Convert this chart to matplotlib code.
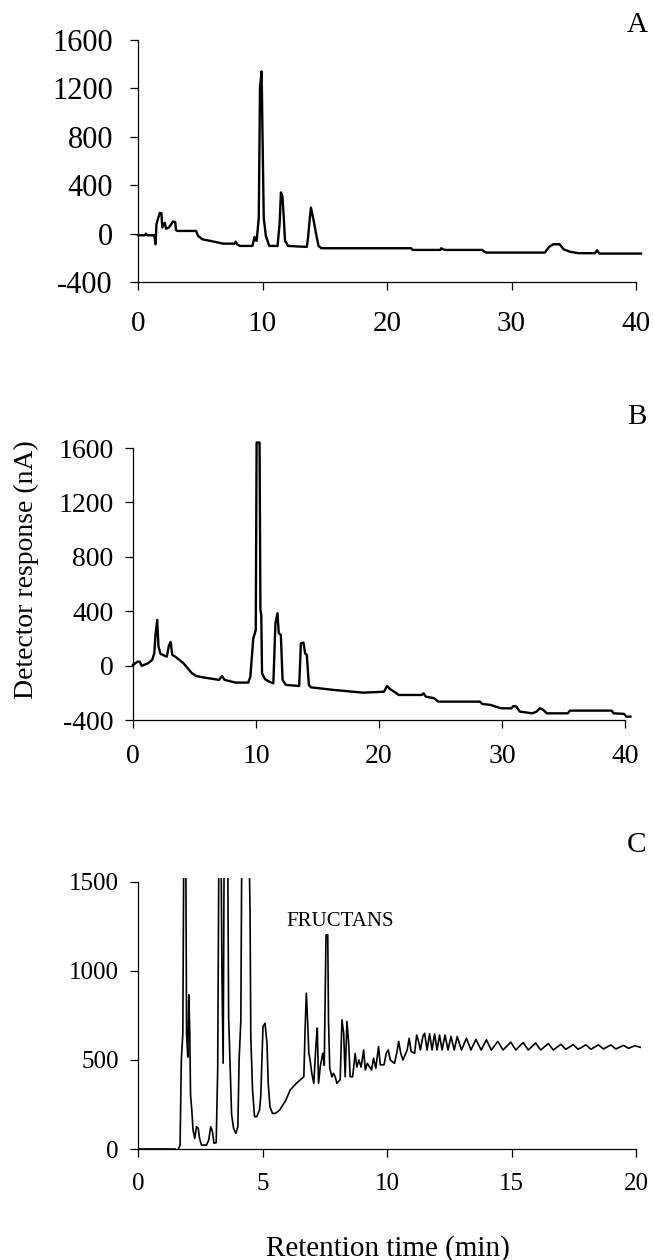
import matplotlib
matplotlib.use("Agg")
from matplotlib import pyplot as plt

plt.rcParams['font.family'] = ['Liberation Serif', 'DejaVu Serif']
plt.rcParams['axes.unicode_minus'] = False

# panel A: retention time (min) and detector response (nA)
time_a = [0, 0.55, 0.64, 0.75, 1.31, 1.41, 1.48, 1.74, 1.88, 1.95, 2.15, 2.25, 2.48, 2.82,
          2.99, 3.05, 3.15, 4.66, 4.83, 5.17, 5.84, 6.85, 7.75, 7.85, 7.95, 8.19, 9.19, 9.36,
          9.45, 9.53, 9.70, 9.80, 9.93, 10.0, 10.1, 10.27, 10.54, 11.21, 11.38, 11.48, 11.60,
          11.71, 11.81, 12.05, 13.56, 13.66, 13.79, 13.89, 14.09, 14.30, 14.50, 14.73, 21.95,
          22.05, 24.3, 24.35, 24.63, 27.65, 27.75, 27.99, 32.68, 33.02, 33.36, 33.86, 34.19,
          34.70, 35.37, 36.71, 36.88, 37.05, 40.4]
resp_a = [-14, -14, 0, -14, -14, -88, 77, 170, 170, 50, 90, 40, 50, 100,
          95, 30, 22, 22, -19, -47, -61, -83, -83, -66, -88, -102, -102, -28,
          -55, -60, 130, 1207, 1340, 820, 130, -19, -102, -102, 90, 340, 310,
          130, -60, -102, -110, -33, 118, 215, 118, 0, -102, -121, -121,
          -135, -135, -121, -135, -135, -145, -157, -157, -110, -88, -88, -130,
          -150, -162, -162, -138, -165, -165]

# panel B
time_b = [0, 0.37, 0.54, 0.71, 1.22, 1.56, 1.73, 1.83, 1.97, 2.07, 2.24, 2.75, 2.92, 3.06,
          3.19, 3.43, 3.77, 4.11, 4.45, 4.79, 5.13, 5.64, 6.15, 7.0, 7.24, 7.44, 8.35, 9.37,
          9.54, 9.78, 9.98, 10.05, 10.29, 10.36, 10.43, 10.49, 10.73, 11.07, 11.41, 11.58,
          11.75, 11.85, 12.02, 12.16, 12.43, 13.51, 13.65, 13.86, 13.99, 14.13, 14.30, 14.46,
          16.33, 18.71, 20.41, 20.65, 20.92, 21.43, 21.60, 23.46, 23.63, 23.80, 24.48, 24.82,
          28.22, 28.39, 29.07, 29.92, 30.76, 30.93, 31.17, 31.44, 32.46, 32.80, 33.07, 33.31,
          33.65, 35.35, 35.52, 38.91, 39.08, 39.93, 40.10, 40.44]
resp_b = [5, 29, 29, -2, 17, 42, 91, 226, 336, 140, 86, 66, 147, 174,
          79, 66, 42, 17, -20, -56, -76, -86, -93, -105, -76, -105, -125, -125,
          -81, 200, 260, 1640, 1640, 410, 373, -56, -100, -118, -130, 312,
          385, 238, 226, -105, -142, -150, 164, 169, 90, 79, -142, -160,
          -179, -199, -192, -150, -174, -204, -216, -216, -204, -228, -240, -265,
          -265, -282, -289, -314, -314, -297, -301, -338, -351, -339, -314, -322,
          -351, -351, -331, -331, -351, -355, -375, -375]

# panel C
time_c = [0, 1.49, 1.58, 1.69, 1.74, 1.80, 1.85, 1.91, 1.95, 2.0, 2.04, 2.08, 2.11, 2.16,
          2.21, 2.28, 2.35, 2.42, 2.47, 2.55, 2.75, 2.84, 2.92, 2.99, 3.05, 3.14, 3.20, 3.26,
          3.32, 3.37, 3.42, 3.47, 3.59, 3.64, 3.71, 3.76, 3.84, 3.93, 4.01, 4.06, 4.13, 4.18,
          4.43, 4.50, 4.53, 4.60, 4.68, 4.77, 4.88, 4.93, 5.02, 5.10, 5.18, 5.23, 5.30, 5.40,
          5.52, 5.69, 5.94, 6.11, 6.36, 6.66, 6.71, 6.76, 6.81, 6.86, 6.91, 6.98, 7.06, 7.15,
          7.20, 7.25, 7.32, 7.42, 7.48, 7.55, 7.62, 7.65, 7.70, 7.79, 7.85, 7.92, 7.99, 8.12,
          8.19, 8.26, 8.32, 8.39, 8.46, 8.52, 8.62, 8.72, 8.79, 8.87, 8.96, 9.06, 9.13, 9.21,
          9.29, 9.38, 9.46, 9.55, 9.66, 9.73, 9.88, 9.97, 10.05, 10.13, 10.30, 10.39, 10.47,
          10.55, 10.64, 10.81, 10.89, 10.97, 11.11, 11.19, 11.27, 11.34, 11.44, 11.51, 11.61,
          11.71, 11.81, 11.91, 12.01, 12.11, 12.21, 12.33, 12.45, 12.57, 12.70, 12.82, 12.99,
          13.19, 13.37, 13.57, 13.78, 13.99, 14.19, 14.45, 14.66, 14.97, 15.17, 15.47, 15.67,
          15.97, 16.17, 16.48, 16.68, 16.98, 17.18, 17.48, 17.68, 17.99, 18.19, 18.49, 18.69,
          18.99, 19.19, 19.50, 19.70, 19.95, 20.2]
resp_c = [0, 0, -15, 23, 500, 647, 2000, 2000, 647, 516, 866, 650, 304, 219,
          107, 60, 125, 116, 60, 22, 22, 50, 125, 98, 32, 36, 445, 2000,
          2000, 1000, 482, 2000, 2000, 741, 424, 191, 116, 88, 125, 500, 722, 2000,
          2000, 1325, 632, 331, 182, 182, 220, 296, 688, 706, 594, 369, 237, 200,
          200, 219, 275, 331, 369, 406, 670, 875, 725, 540, 500, 425, 369, 595,
          679, 369, 463, 538, 470, 1203, 1203, 725, 454, 405, 425, 405, 369, 390,
          725, 650, 406, 716, 594, 406, 406, 536, 460, 500, 460, 556, 444, 481,
          463, 444, 510, 454, 575, 473, 473, 538, 556, 500, 481, 538, 604,
          538, 500, 556, 622, 547, 538, 640, 604, 556, 632, 650, 556,
          647, 556, 647, 556, 640, 556, 640, 556, 632, 556, 632, 556,
          622, 556, 615, 556, 613, 556, 604, 556, 600, 556, 598, 556,
          595, 556, 592, 556, 588, 560, 586, 560, 585, 560, 585, 562,
          584, 562, 582, 565, 580, 570]

fig = plt.figure(figsize=(6.53, 12.6), dpi=100)


def style(ax):
    for s in ['top', 'right']:
        ax.spines[s].set_visible(False)
    for s in ['left', 'bottom']:
        ax.spines[s].set_linewidth(0.9)
    ax.tick_params(direction='out', length=6, width=0.9)


# A
ax1 = fig.add_axes([138 / 653, 1 - 282 / 1260, 498 / 653, 242 / 1260])
ax1.plot(time_a, resp_a, color='black', lw=1.7, clip_on=False)
ax1.set_xlim(0, 40)
ax1.set_ylim(-400, 1600)
ax1.set_xticks([0, 10, 20, 30, 40])
ax1.set_yticks([-400, 0, 400, 800, 1200, 1600])
style(ax1)
ax1.tick_params(axis='y', labelsize=22, pad=12)
ax1.tick_params(axis='x', labelsize=21, pad=15)
fig.text(637 / 653, 1 - 25 / 1260, "A", fontsize=21, ha='center', va='center')

# B
ax2 = fig.add_axes([133 / 653, 1 - 720 / 1260, 492 / 653, 272 / 1260])
ax2.plot(time_b, resp_b, color='black', lw=1.7, clip_on=False)
ax2.set_xlim(0, 40)
ax2.set_ylim(-400, 1600)
ax2.set_xticks([0, 10, 20, 30, 40])
ax2.set_yticks([-400, 0, 400, 800, 1200, 1600])
style(ax2)
ax2.tick_params(axis='y', labelsize=20, pad=8)
ax2.tick_params(axis='x', labelsize=20, pad=11)
fig.text(637 / 653, 1 - 417 / 1260, "B", fontsize=21, ha='center', va='center')
fig.text(26 / 653, 1 - 570 / 1260, "Detector response (nA)", fontsize=20,
         rotation=90, ha='center', va='center')

# C
ax3 = fig.add_axes([138 / 653, 1 - 1149 / 1260, 503 / 653, 271 / 1260])
ax3.plot(time_c, resp_c, color='black', lw=1.2)
ax3.set_xlim(0, 20.2)
ax3.set_ylim(0, 1522)
ax3.spines['left'].set_bounds(0, 1500)
ax3.spines['bottom'].set_bounds(0, 20)
ax3.set_xticks([0, 5, 10, 15, 20])
ax3.set_yticks([0, 500, 1000, 1500])
style(ax3)
ax3.tick_params(axis='y', labelsize=18, pad=8)
ax3.tick_params(axis='x', labelsize=18, pad=11)
ax3.text(8.11, 1275, "FRUCTANS", fontsize=15, ha='center', va='center')
fig.text(637 / 653, 1 - 845 / 1260, "C", fontsize=21, ha='center', va='center')
fig.text(388 / 653, 1 - 1249 / 1260, "Retention time (min)", fontsize=21,
         ha='center', va='center')

plt.savefig("out.png", dpi=100)
